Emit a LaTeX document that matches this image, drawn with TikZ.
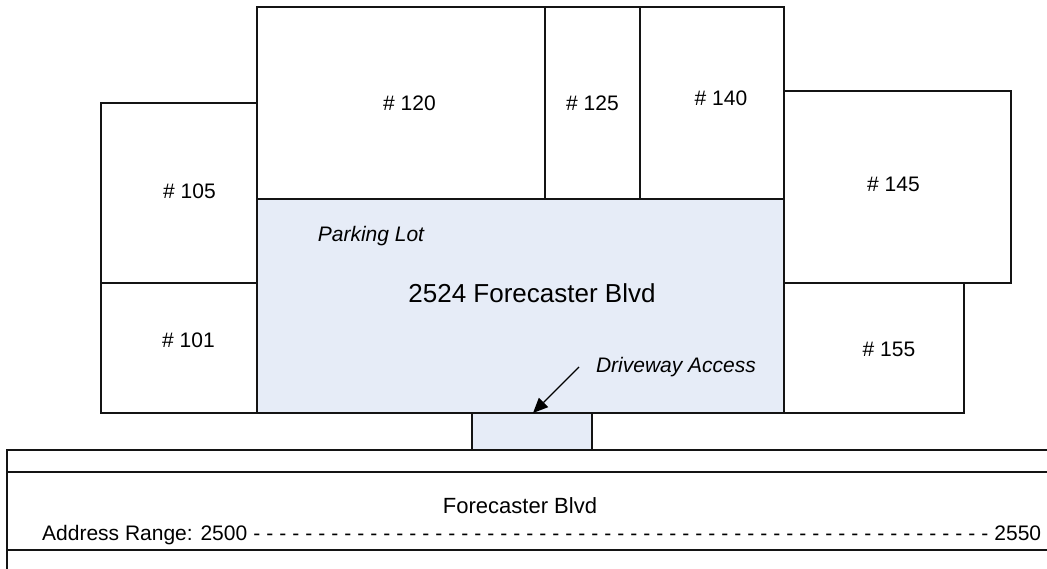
\documentclass[tikz,border=0pt]{standalone}
\usepackage{fontspec}
\setmainfont{Liberation Sans}
\usetikzlibrary{arrows.meta}
\definecolor{lotfill}{RGB}{230,236,247}
\definecolor{edge}{RGB}{20,20,20}
\begin{document}
\begin{tikzpicture}[x=1pt,y=-1pt,
  wall/.style={draw=edge,line width=1.3pt},
  lbl/.style={anchor=base,inner sep=0pt,font=\fontsize{21}{25}\selectfont},
  big/.style={anchor=base,inner sep=0pt,font=\fontsize{26}{30}\selectfont},
  mid/.style={anchor=base,inner sep=0pt,font=\fontsize{22}{26}\selectfont},
  note/.style={anchor=base,inner sep=0pt,font=\fontsize{21}{25}\selectfont\itshape},
  pointer/.style={draw=black,line width=1.3pt,-{Triangle[length=15pt,width=13pt]}}
]
\useasboundingbox (0,0) rectangle (1047,569);
% parking lot and driveway
\fill[lotfill] (257,199) rectangle (784,413);
\fill[lotfill] (472,413) rectangle (592,450);
% units
\draw[wall] (101,103) rectangle (257,283);
\draw[wall] (101,283) rectangle (257,413);
\draw[wall] (257,7) rectangle (545,199);
\draw[wall] (545,7) rectangle (640,199);
\draw[wall] (640,7) rectangle (784,199);
\draw[wall] (784,91) rectangle (1011,283);
\draw[wall] (784,283) rectangle (964,413);
\draw[wall] (257,199) rectangle (784,413);
\draw[wall] (472,413) rectangle (592,450);
% road
\draw[wall] (7,569) -- (7,450) -- (1047,450);
\draw[wall] (7,472) -- (1047,472);
\draw[wall] (7,550) -- (1047,550);
% labels
\node[lbl] (u120) at (409.5,111) {\# 120};
\node[lbl] (u125) at (592.5,111) {\# 125};
\node[lbl] (u140) at (721,105.7) {\# 140};
\node[lbl] (u145) at (893.5,192) {\# 145};
\node[lbl] (u105) at (189.5,199) {\# 105};
\node[lbl] (u101) at (188.5,348) {\# 101};
\node[lbl] (u155) at (889,356.7) {\# 155};
\node[note] (lot) at (371,241.7) {Parking Lot};
\node[big] (addr) at (532,303) {2524 Forecaster Blvd};
\node[note] (drv) at (676,372) {Driveway Access};
\node[mid] (road) at (520,513) {Forecaster Blvd};
\node[lbl,anchor=base west] (range) at (42,540)
  {\hbox to 999pt{Address Range: 2500 \xleaders\hbox{-\hskip 5.8pt}\hfill 2550}};
% arrow
\coordinate (arrS) at (579,367);
\coordinate (arrE) at (533,413);
\draw[pointer] (arrS) -- (arrE);
\end{tikzpicture}
\end{document}
